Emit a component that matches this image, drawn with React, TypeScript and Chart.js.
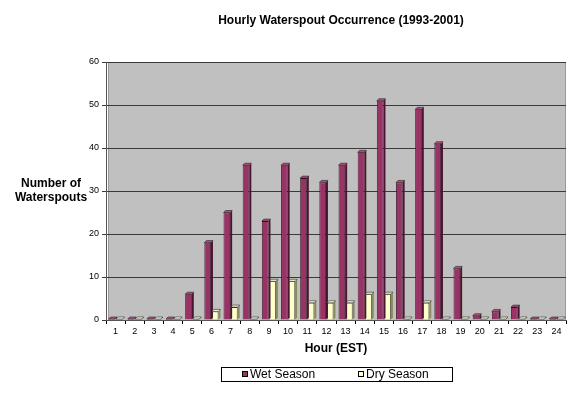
import React, { useEffect, useRef } from "react";
import { Chart, registerables } from "chart.js";

Chart.register(...registerables);

const hours = ["1","2","3","4","5","6","7","8","9","10","11","12","13","14","15","16","17","18","19","20","21","22","23","24"];
const wetSeason = [0,0,0,0,6,18,25,36,23,36,33,32,36,39,51,32,49,41,12,1,2,3,0,0];
const drySeason = [0,0,0,0,0,2,3,0,9,9,4,4,4,6,6,0,4,0,0,0,0,0,0,0];
const yTicks = [0,10,20,30,40,50,60];

const FONT = "'Liberation Sans', Arial, sans-serif";
const WET = "#993366";
const WET_SIDE = "#4a1530";
const WET_TOP = "#b8557f";
const DRY = "#FFFFCC";
const DRY_SIDE = "#8a8a60";
const DRY_TOP = "#ffffe6";

const decorPlugin = {
  id: "decor",
  beforeDraw(chart: any) {
    const { ctx, chartArea: a } = chart;
    ctx.save();
    ctx.fillStyle = "#ffffff";
    ctx.fillRect(0, 0, chart.width, chart.height);
    ctx.fillStyle = "#C0C0C0";
    ctx.fillRect(a.left + 2, a.top, a.right - a.left - 2, a.bottom - a.top);
    ctx.strokeStyle = "#9a9a9a";
    ctx.lineWidth = 1;
    ctx.strokeRect(a.left + 2.5, a.top + 0.5, a.right - a.left - 3, a.bottom - a.top);
    ctx.restore();
  },
  afterDatasetsDraw(chart: any) {
    const { ctx } = chart;
    const d = 2;
    ctx.save();
    chart.data.datasets.forEach((ds: any, di: number) => {
      const meta = chart.getDatasetMeta(di);
      const side = di === 0 ? WET_SIDE : DRY_SIDE;
      const top = di === 0 ? WET_TOP : DRY_TOP;
      meta.data.forEach((bar: any) => {
        const w = bar.width;
        const l = bar.x - w / 2;
        const r = bar.x + w / 2;
        const y = bar.y;
        const b = bar.base;
        ctx.fillStyle = side;
        ctx.beginPath();
        ctx.moveTo(r, y);
        ctx.lineTo(r + d, y - d);
        ctx.lineTo(r + d, b - d);
        ctx.lineTo(r, b);
        ctx.closePath();
        ctx.fill();
        ctx.fillStyle = top;
        ctx.strokeStyle = "#222";
        ctx.lineWidth = 0.6;
        ctx.beginPath();
        ctx.moveTo(l, y);
        ctx.lineTo(l + d, y - d);
        ctx.lineTo(r + d, y - d);
        ctx.lineTo(r, y);
        ctx.closePath();
        ctx.fill();
        ctx.stroke();
      });
    });
    ctx.restore();
  },
  afterDraw(chart: any) {
    const { ctx } = chart;
    ctx.save();
    ctx.fillStyle = "#000";
    ctx.textAlign = "center";
    ctx.textBaseline = "middle";
    ctx.font = `bold 12px ${FONT}`;
    ctx.fillText("Hourly Waterspout Occurrence (1993-2001)", 341, 21);
    ctx.fillText("Number of", 51, 184);
    ctx.fillText("Waterspouts", 51, 198);
    // legend
    ctx.strokeStyle = "#000";
    ctx.lineWidth = 1;
    ctx.strokeRect(221.5, 367.5, 231, 14);
    const items = [
      { label: "Wet Season", color: WET, x: 242 },
      { label: "Dry Season", color: DRY, x: 358 },
    ];
    ctx.font = `12px ${FONT}`;
    ctx.textAlign = "left";
    items.forEach((it) => {
      ctx.fillStyle = it.color;
      ctx.fillRect(it.x, 371, 6, 6);
      ctx.strokeStyle = "#000";
      ctx.strokeRect(it.x + 0.5, 371.5, 5, 5);
      ctx.fillStyle = "#000";
      ctx.fillText(it.label, it.x + 8, 375);
    });
    ctx.restore();
  },
};

export default function App() {
  const ref = useRef<HTMLCanvasElement>(null);
  useEffect(() => {
    if (!ref.current) return;
    const chart = new Chart(ref.current, {
      type: "bar",
      data: {
        labels: hours,
        datasets: [
          {
            label: "Wet Season",
            data: wetSeason,
            backgroundColor: WET,
            borderColor: "#2a0a1a",
            borderWidth: 0.8,
            minBarLength: 1,
          },
          {
            label: "Dry Season",
            data: drySeason,
            backgroundColor: DRY,
            borderColor: "#333322",
            borderWidth: 0.8,
            minBarLength: 1,
          },
        ],
      },
      options: {
        responsive: false,
        animation: false,
        devicePixelRatio: 1,
        layout: { padding: { left: 0, right: 10, top: 62, bottom: 34 } },
        datasets: { bar: { categoryPercentage: 0.78, barPercentage: 0.88 } },
        plugins: {
          legend: { display: false },
          title: { display: false },
          tooltip: { enabled: false },
        },
        scales: {
          x: {
            afterFit: (s: any) => { s.height = 40; },
            grid: { offset: true, drawOnChartArea: false, tickLength: 4, color: "#000" },
            border: { color: "#555", width: 1 },
            ticks: { color: "#000", font: { family: FONT, size: 9 }, padding: 2, maxRotation: 0, autoSkip: false },
            title: {
              display: true,
              text: "Hour (EST)",
              color: "#000",
              font: { family: FONT, size: 12, weight: "bold" },
              padding: { top: 4, bottom: 4 },
            },
          },
          y: {
            min: 0,
            max: 60,
            afterFit: (s: any) => { s.width = 106; },
            afterBuildTicks: (s: any) => { s.ticks = yTicks.map((v) => ({ value: v })); },
            grid: { color: "#3a3a3a", tickLength: 4, lineWidth: 1 },
            border: { color: "#555", width: 1 },
            ticks: { color: "#000", font: { family: FONT, size: 9 }, padding: 3 },
          },
        },
      },
      plugins: [decorPlugin],
    });
    return () => chart.destroy();
  }, []);
  return (
    <div style={{ position: "absolute", left: 0, top: 0, width: 576, height: 394, background: "#fff" }}>
      <canvas ref={ref} width={576} height={394} />
    </div>
  );
}
